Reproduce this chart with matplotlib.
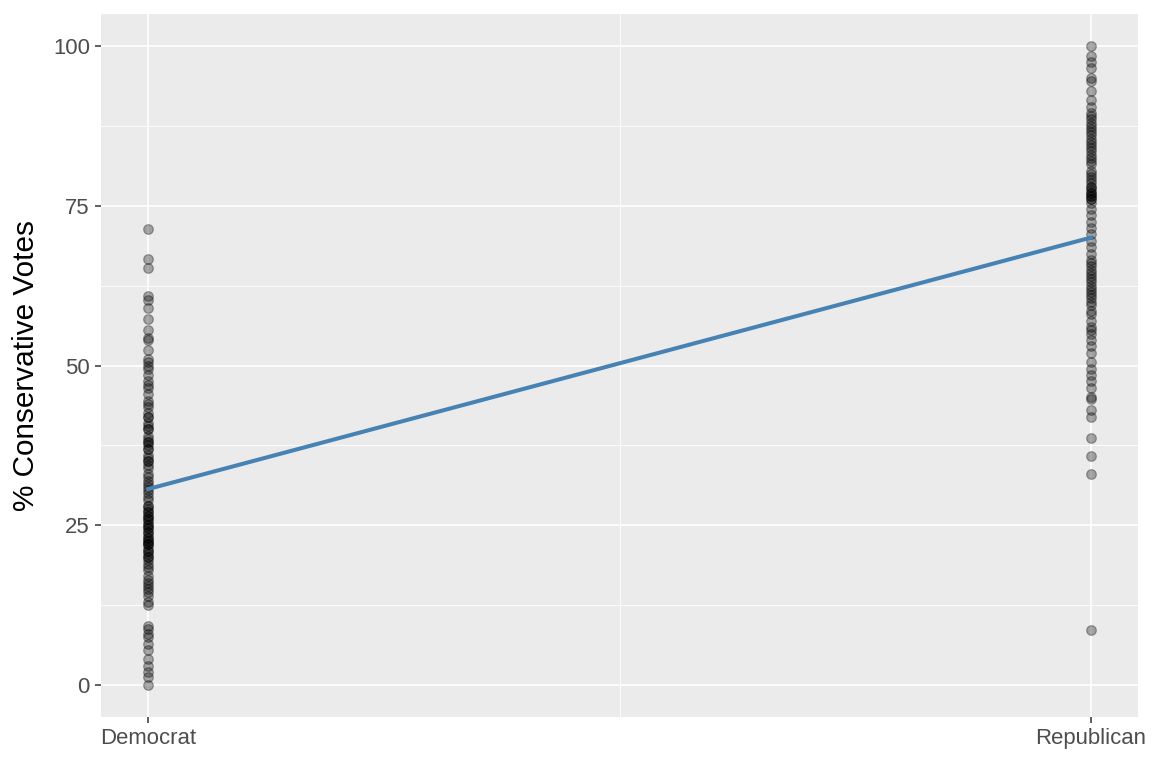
import numpy as np
import matplotlib.pyplot as plt

plt.rcParams['font.family'] = ['Liberation Sans', 'DejaVu Sans']

# % conservative votes per judge, by party of appointing president
dem = [71.3, 66.7, 65.2, 60.8, 60.2, 59.0, 57.2, 55.5, 54.3, 54.0, 52.5, 51.0, 50.5, 50.0,
       49.5, 48.5, 47.5, 47.0, 46.5, 45.5, 44.5, 44.0, 43.5, 42.5, 42.0, 41.0, 40.5, 40.0,
       39.0, 38.5, 38.0, 37.5, 37.0, 36.0, 35.5, 35.0, 34.5, 34.0, 33.0, 32.5, 32.0, 31.5,
       31.0, 30.5, 30.0, 29.5, 29.0, 28.0, 27.5, 27.0, 26.5, 26.0, 25.5, 25.0, 24.5, 24.0,
       23.0, 22.5, 22.0, 21.5, 21.0, 20.5, 20.0, 19.0, 18.0, 17.0, 16.5, 15.5, 15.0, 14.0,
       13.0, 12.5, 9.3, 8.8, 8.0, 7.5, 6.5, 5.5, 4.0, 3.0, 2.0, 1.2, 0.0,
       21, 22, 23, 24, 25, 26, 27, 28, 22.5, 24.5, 26.5, 23.5,
       14.5, 16, 18.5, 19.5, 20, 22, 35, 38, 40, 42, 37]
rep = [100, 98.5, 97.5, 96.5, 95, 94.5, 93, 91.5, 90.5, 89.5, 88.5, 88, 87, 86.5, 85.5, 85,
       84, 83.5, 82.5, 81.5, 80, 79, 78.5, 78, 77.5, 77, 76.5, 76, 75.5, 74.5, 73.5, 72.5,
       71.5, 70.5, 69.5, 68.5, 67.5, 66.5, 65.5, 65, 64.5, 64, 63, 62, 61, 60.5, 60, 59.5,
       58, 57, 56, 55.5, 55, 54, 53, 52, 50.5, 49.5, 48.5, 47.5, 46.5, 45, 44.7, 43, 42,
       38.7, 35.8, 33, 8.6,
       89, 87.5, 86, 84.5, 83, 82, 80.5, 79.5, 78, 77, 76.5, 76, 62.5, 63.5, 58.5, 66, 61.5]
party_labels = ['Democrat', 'Republican']

x = np.r_[np.zeros(len(dem)), np.ones(len(rep))]
y = np.r_[dem, rep]
slope, icpt = np.polyfit(x, y, 1)

fig = plt.figure(figsize=(11.52, 7.68), dpi=100)
ax = fig.add_axes([101/1152, 1 - 717/768, (1138-101)/1152, (717-14)/768])
ax.set_facecolor('#EBEBEB')

ax.scatter(x, y, s=48, c='black', alpha=0.32, linewidths=0.9, zorder=3)
xs = np.linspace(0, 1, 50)
ax.plot(xs, icpt + slope * xs, color='#4682B4', lw=2.9, zorder=4)

ax.set_xlim(-0.05, 1.05)
ax.set_ylim(-5, 105)
ax.set_xticks([0, 1])
ax.set_xticklabels(party_labels)
ax.set_xticks([0.5], minor=True)
ax.set_yticks([0, 25, 50, 75, 100])
ax.set_yticks([12.5, 37.5, 62.5, 87.5], minor=True)
ax.grid(which='major', color='white', lw=1.2)
ax.grid(which='minor', color='white', lw=0.6)
ax.set_axisbelow(True)
for s in ax.spines.values():
    s.set_visible(False)
ax.tick_params(which='major', length=4, width=1.1, color='#333333',
               labelcolor='#4D4D4D', labelsize=15.9, pad=4)
ax.tick_params(which='minor', length=0)
ax.set_ylabel('% Conservative Votes', fontsize=21.4, color='black', labelpad=9)

fig.savefig('out.png', dpi=100)
